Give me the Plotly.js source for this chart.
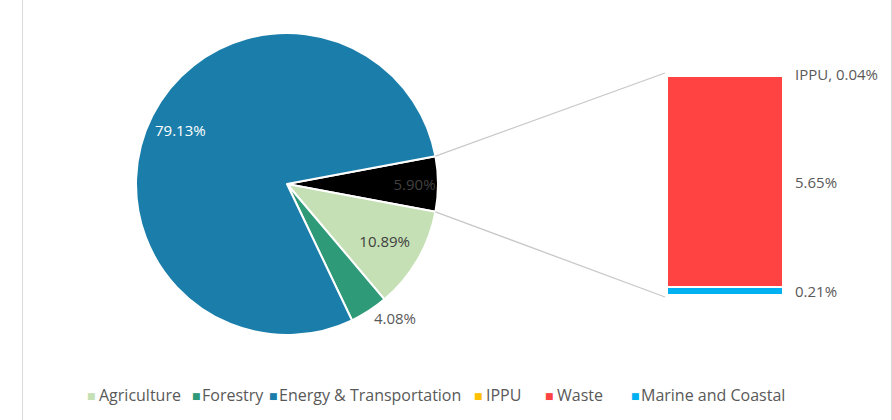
<!DOCTYPE html>
<html>
<head>
<meta charset="utf-8">
<script src="https://cdn.plot.ly/plotly-3.0.1.min.js"></script>
<style>
  html, body { margin: 0; padding: 0; background: #fff; }
  #chart { width: 892px; height: 420px; }
</style>
</head>
<body>
<div id="chart"></div>
<script>
// pie part, "Other" is the slice broken out into the bar
var pieLabels = ['Other', 'Agriculture', 'Forestry', 'Energy & Transportation'];
var pieValues = [5.90, 10.89, 4.08, 79.13];
var pieColors = ['#000000', '#c5e0b4', '#2e9a78', '#1b7eaa'];
var pieTextColors = ['#404040', '#404040', '#404040', '#ffffff'];

// bar part, stacked bottom to top
var barLabels = ['Marine and Coastal', 'Waste', 'IPPU'];
var barValues = [0.21, 5.65, 0.04];
var barColors = ['#00b0f0', '#ff4343', '#ffc000'];
var barShowName = [false, false, true];

var legendLabels = ['Agriculture', 'Forestry', 'Energy & Transportation', 'IPPU', 'Waste', 'Marine and Coastal'];
var legendColors = ['#c5e0b4', '#2e9a78', '#1b7eaa', '#ffc000', '#ff4343', '#00b0f0'];

var W = 892, H = 420;
var FONT = '"Open Sans", Lato, sans-serif';
var GREY = '#595959';
var LABEL_SIZE = 15;

// pixel placement
var pieCx = 287, pieCy = 184, pieR = 151;
var barX0 = 667, barX1 = 783, barTop = 75, barBottom = 295;
var legendY = 395;
var legendSq = [91, 196, 273, 478, 549, 635];
var legendTx = [97, 200, 277, 484, 555, 639];

function px(x) { return x / W; }
function py(y) { return 1 - y / H; }

var total = pieValues.reduce(function (a, b) { return a + b; }, 0);
var half = pieValues[0] / total * 180;  // half angle of the "Other" slice, degrees
var rotation = 90 - half;

// the big slice label sits far out, Excel style, so it goes in as an annotation
var bigIdx = 3;
var pieTemplates = pieValues.map(function (v, i) { return i === bigIdx ? '' : '%{value:.2f}%'; });

var data = [{
  type: 'pie',
  labels: pieLabels,
  values: pieValues,
  sort: false,
  direction: 'clockwise',
  rotation: rotation,
  domain: { x: [px(pieCx - pieR), px(pieCx + pieR)], y: [py(pieCy + pieR), py(pieCy - pieR)] },
  marker: { colors: pieColors, line: { color: '#ffffff', width: 2 } },
  texttemplate: pieTemplates,
  textposition: ['inside', 'inside', 'outside', 'inside'],
  insidetextorientation: 'horizontal',
  textfont: { family: FONT, size: LABEL_SIZE, color: pieTextColors },
  outsidetextfont: { family: FONT, size: LABEL_SIZE, color: GREY },
  showlegend: false,
  hoverinfo: 'label+percent'
}];

var barSum = 0;
for (var i = 0; i < barValues.length; i++) {
  data.push({
    type: 'bar',
    x: [0],
    y: [barValues[i]],
    width: 1,
    name: barLabels[i],
    marker: { color: barColors[i], line: { color: '#ffffff', width: 1.5 } },
    showlegend: false,
    xaxis: 'x',
    yaxis: 'y'
  });
  barSum += barValues[i];
}

var annotations = [];

// label of the big slice along its bisector
var before = 0;
for (var k = 0; k < bigIdx; k++) before += pieValues[k];
var mAng = (rotation + (before + pieValues[bigIdx] / 2) / total * 360) * Math.PI / 180;
var dist = 0.79 * pieR;
annotations.push({
  xref: 'paper', yref: 'paper',
  x: px(pieCx + dist * Math.sin(mAng)), y: py(pieCy - dist * Math.cos(mAng)),
  xanchor: 'center', yanchor: 'middle',
  text: pieValues[bigIdx].toFixed(2) + '%', showarrow: false,
  font: { family: FONT, size: LABEL_SIZE, color: pieTextColors[bigIdx] }
});

var cum = 0;
for (var i = 0; i < barValues.length; i++) {
  var mid = cum + barValues[i] / 2;
  cum += barValues[i];
  var txt = barValues[i].toFixed(2) + '%';
  if (barShowName[i]) txt = barLabels[i] + ', ' + txt;
  annotations.push({
    xref: 'x', yref: 'y', x: 0.5, y: mid,
    xanchor: 'left', yanchor: 'middle', xshift: 10,
    yshift: barShowName[i] ? 2 : 0,
    text: txt, showarrow: false,
    font: { family: FONT, size: LABEL_SIZE, color: GREY }
  });
}

for (var j = 0; j < legendLabels.length; j++) {
  annotations.push({
    xref: 'paper', yref: 'paper', x: px(legendSq[j]), y: py(legendY + 1),
    xanchor: 'center', yanchor: 'middle',
    text: '■', showarrow: false,
    font: { family: 'DejaVu Sans', size: 9, color: legendColors[j] }
  });
  annotations.push({
    xref: 'paper', yref: 'paper', x: px(legendTx[j]), y: py(legendY),
    xanchor: 'left', yanchor: 'middle',
    text: legendLabels[j], showarrow: false,
    font: { family: FONT, size: 16, color: GREY }
  });
}

// connector lines from the "Other" slice to the bar ends
var a = half * Math.PI / 180;
var edgeX = pieCx + pieR * Math.cos(a);
var shapes = [
  { type: 'line', xref: 'paper', yref: 'paper',
    x0: px(edgeX), y0: py(pieCy - pieR * Math.sin(a)), x1: px(barX0 - 2), y1: py(barTop - 2),
    line: { color: '#c8c8c8', width: 1.3 } },
  { type: 'line', xref: 'paper', yref: 'paper',
    x0: px(edgeX), y0: py(pieCy + pieR * Math.sin(a)), x1: px(barX0 - 2), y1: py(barBottom + 2),
    line: { color: '#c8c8c8', width: 1.3 } },
  // chart frame edges
  { type: 'line', xref: 'paper', yref: 'paper', x0: px(22.5), x1: px(22.5), y0: 0, y1: 1,
    line: { color: '#d9d9d9', width: 1 } },
  { type: 'line', xref: 'paper', yref: 'paper', x0: px(891.5), x1: px(891.5), y0: 0, y1: 1,
    line: { color: '#d9d9d9', width: 1 } }
];

var layout = {
  width: W, height: H,
  margin: { l: 0, r: 0, t: 0, b: 0 },
  paper_bgcolor: '#ffffff',
  plot_bgcolor: 'rgba(0,0,0,0)',
  barmode: 'stack',
  showlegend: false,
  font: { family: FONT, color: GREY },
  xaxis: { domain: [px(barX0), px(barX1)], range: [-0.5, 0.5], visible: false, fixedrange: true },
  yaxis: { domain: [py(barBottom), py(barTop)], range: [0, barSum], visible: false, fixedrange: true },
  annotations: annotations,
  shapes: shapes
};

Plotly.newPlot('chart', data, layout, { displayModeBar: false, staticPlot: true });
</script>
</body>
</html>
